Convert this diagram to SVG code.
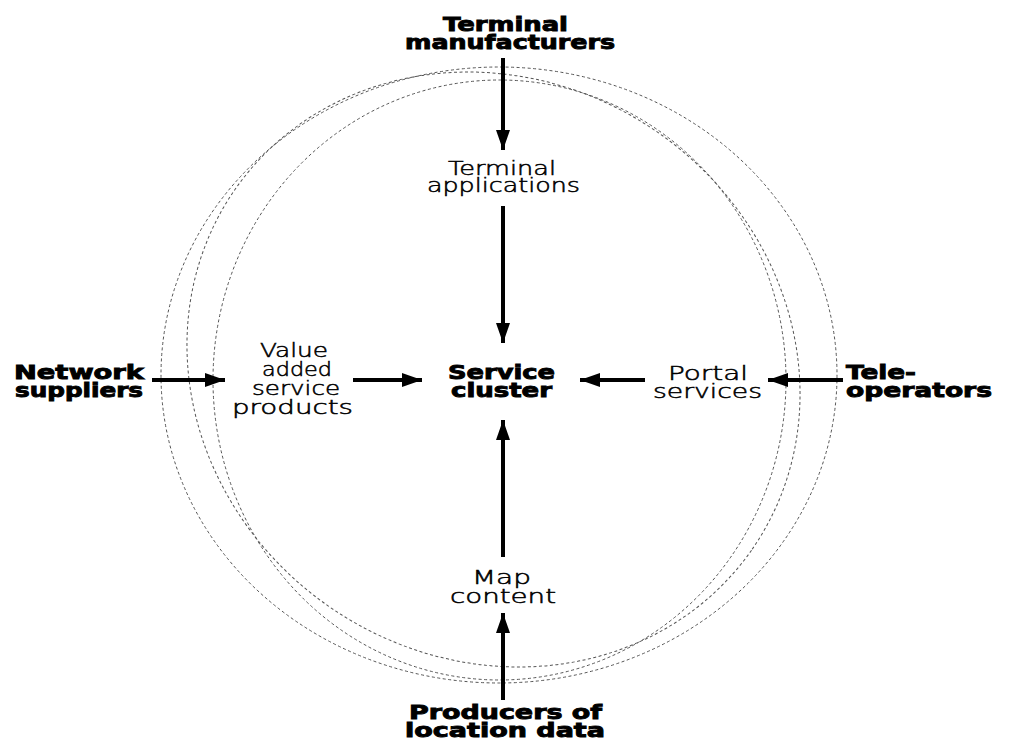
<svg xmlns="http://www.w3.org/2000/svg" width="1010" height="742" viewBox="0 0 1010 742">
<style>
.b{font-family:"DejaVu Sans","Liberation Sans",sans-serif;font-weight:bold;font-size:19.5px;fill:#000;stroke:#000;stroke-width:0.9px}
.l{font-family:"DejaVu Sans","Liberation Sans",sans-serif;font-weight:200;font-size:19px;fill:#000;stroke:#000;stroke-width:0.5px}
.ring{fill:none;stroke:#555;stroke-width:1;stroke-dasharray:3 2.5}
.arr{stroke:#000;stroke-width:4;fill:none;marker-end:url(#ah)}
</style>
<defs>
<marker id="ah" viewBox="0 0 20 14" refX="20" refY="7" markerWidth="20" markerHeight="14" markerUnits="userSpaceOnUse" orient="auto">
<path d="M0,0 L20,7 L0,14 Z" fill="#000"/>
</marker>
</defs>
<rect width="1010" height="742" fill="#fff"/>
<g id="rings">
<ellipse class="ring" cx="499" cy="375" rx="338" ry="308"/>
<ellipse class="ring" cx="493.5" cy="369.5" rx="315" ry="288.5" transform="rotate(35 493.5 369.5)"/>
<ellipse class="ring" cx="499.5" cy="380" rx="286.5" ry="300"/>
</g>
<g id="connectors">
<line class="arr" x1="503" y1="58" x2="503" y2="150"/>
<line class="arr" x1="503" y1="206" x2="503" y2="343"/>
<line class="arr" x1="503" y1="700" x2="503" y2="613"/>
<line class="arr" x1="503" y1="557" x2="503" y2="420"/>
<line class="arr" x1="152" y1="380" x2="225" y2="380"/>
<line class="arr" x1="353" y1="380" x2="422" y2="380"/>
<line class="arr" x1="645" y1="380" x2="580" y2="380"/>
<line class="arr" x1="843" y1="380" x2="768" y2="380"/>
</g>
<g id="terminal-manufacturers">
<text class="b" x="443" y="31" textLength="125" lengthAdjust="spacingAndGlyphs">Terminal</text>
<text class="b" x="405" y="49" textLength="210" lengthAdjust="spacingAndGlyphs">manufacturers</text>
</g>
<g id="terminal-applications">
<text class="l" x="448" y="175" textLength="108" lengthAdjust="spacingAndGlyphs">Terminal</text>
<text class="l" x="427" y="192" textLength="153" lengthAdjust="spacingAndGlyphs">applications</text>
</g>
<g id="network-suppliers">
<text class="b" x="14" y="379" textLength="130" lengthAdjust="spacingAndGlyphs">Network</text>
<text class="b" x="15" y="397" textLength="128" lengthAdjust="spacingAndGlyphs">suppliers</text>
</g>
<g id="value-added">
<text class="l" x="260" y="357" textLength="68" lengthAdjust="spacingAndGlyphs">Value</text>
<text class="l" x="262" y="376" textLength="70" lengthAdjust="spacingAndGlyphs">added</text>
<text class="l" x="252" y="395" textLength="88" lengthAdjust="spacingAndGlyphs">service</text>
<text class="l" x="232" y="414" textLength="121" lengthAdjust="spacingAndGlyphs">products</text>
</g>
<g id="service-cluster">
<text class="b" x="448" y="379" textLength="107" lengthAdjust="spacingAndGlyphs">Service</text>
<text class="b" x="451" y="397" textLength="101" lengthAdjust="spacingAndGlyphs">cluster</text>
</g>
<g id="portal-services">
<text class="l" x="668" y="380" textLength="80" lengthAdjust="spacingAndGlyphs">Portal</text>
<text class="l" x="653" y="398" textLength="109" lengthAdjust="spacingAndGlyphs">services</text>
</g>
<g id="tele-operators">
<text class="b" x="846" y="379" textLength="70" lengthAdjust="spacingAndGlyphs">Tele-</text>
<text class="b" x="846" y="397" textLength="146" lengthAdjust="spacingAndGlyphs">operators</text>
</g>
<g id="map-content">
<text class="l" x="472" y="584" textLength="59" lengthAdjust="spacingAndGlyphs">Map</text>
<text class="l" x="450" y="603" textLength="106" lengthAdjust="spacingAndGlyphs">content</text>
</g>
<g id="producers">
<text class="b" x="409" y="719" textLength="193" lengthAdjust="spacingAndGlyphs">Producers of</text>
<text class="b" x="405" y="737" textLength="200" lengthAdjust="spacingAndGlyphs">location data</text>
</g>
</svg>
